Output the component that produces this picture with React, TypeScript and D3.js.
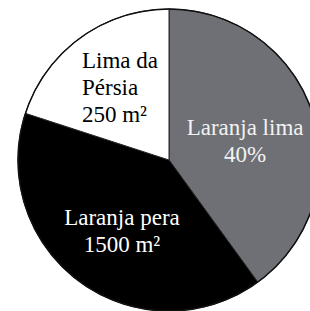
import { useEffect, useRef } from 'react';
import * as d3 from 'd3';

// slices as drawn in the figure (share of the circle, %)
const categories = ['Laranja lima', 'Laranja pera', 'Lima da Pérsia'];
const drawnShares = [40, 40, 20];
const labelLines = [
  ['Laranja lima', '40%'],
  ['Laranja pera', '1500 m²'],
  ['Lima da', 'Pérsia', '250 m²'],
];

const fills = ['#6e7075', '#000000', '#ffffff'];
const textFills = ['#f2f2f2', '#ffffff', '#000000'];

interface Slice {
  name: string;
  share: number;
  lines: string[];
}

export default function App(): JSX.Element {
  const svgRef = useRef<SVGSVGElement>(null);

  useEffect(() => {
    if (svgRef.current) {
      svgRef.current.innerHTML = '';
    }
    const width = 310;
    const height = 311;
    const cx = 169;
    const cy = 160;
    const radius = 151;
    const labelRadius = 80;
    const lineHeight = 27;

    const data: Slice[] = categories.map((name, i) => ({
      name,
      share: drawnShares[i],
      lines: labelLines[i],
    }));

    const pie = d3
      .pie<Slice>()
      .sort(null)
      .value((d) => d.share);

    const arcs = pie(data);

    const arc = d3.arc<d3.PieArcDatum<Slice>>().innerRadius(0).outerRadius(radius);
    const labelArc = d3.arc<d3.PieArcDatum<Slice>>().innerRadius(labelRadius).outerRadius(labelRadius);

    const svg = d3
      .select(svgRef.current)
      .attr('width', width)
      .attr('height', height)
      .attr('viewBox', [0, 0, width, height]);

    svg.append('rect').attr('width', width).attr('height', height).attr('fill', '#fff');

    const g = svg.append('g').attr('transform', `translate(${cx},${cy})`);

    g.selectAll('path')
      .data(arcs)
      .enter()
      .append('path')
      .attr('d', arc)
      .attr('fill', (d, i) => fills[i])
      .attr('stroke', '#222')
      .attr('stroke-width', 1);

    // outer rim
    g.append('circle').attr('r', radius).attr('fill', 'none').attr('stroke', '#111').attr('stroke-width', 1.5);

    const labels = g
      .selectAll('text.label')
      .data(arcs)
      .enter()
      .append('text')
      .attr('class', 'label')
      .style('font-family', "'Times New Roman', Times, serif")
      .style('font-size', '23px')
      .attr('fill', (d, i) => textFills[i])
      .attr('text-anchor', (d) => (d.data.lines.length > 2 ? 'start' : 'middle'));

    labels.each(function (d) {
      const [lx, ly] = labelArc.centroid(d);
      const n = d.data.lines.length;
      const x = n > 2 ? lx - 40 : lx;
      d3.select(this)
        .selectAll('tspan')
        .data(d.data.lines)
        .enter()
        .append('tspan')
        .attr('x', x)
        .attr('y', (t, i) => ly + (i + 2 - n) * lineHeight)
        .text((t) => t);
    });
  }, []);

  return (
    <div style={{ position: 'absolute', left: 0, top: 0 }}>
      <svg ref={svgRef} style={{ display: 'block' }} />
    </div>
  );
}
